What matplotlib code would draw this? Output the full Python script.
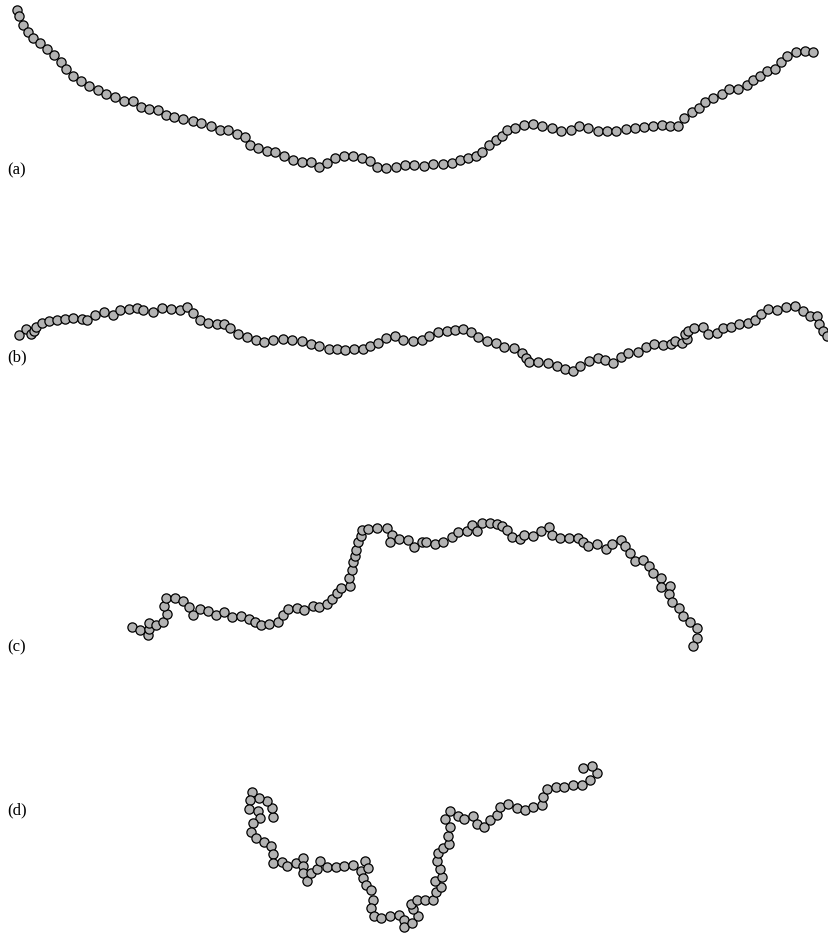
import numpy as np
import matplotlib.pyplot as plt

# bead centres for each chain (x, y)
chain_a = np.array([
    (17, 11), (19, 17), (23, 26), (28, 33), (33, 39), (40, 44), (47, 50), (54, 56), (61, 63), (66, 70),
    (73, 77), (81, 82), (89, 87), (98, 91), (106, 95), (115, 98), (124, 102), (133, 102), (141, 108),
    (149, 110), (158, 111), (166, 116), (174, 118), (183, 120), (193, 122), (201, 124), (211, 127),
    (220, 131), (228, 131), (237, 135), (245, 138), (250, 146), (258, 149), (267, 152), (275, 153),
    (284, 157), (293, 161), (302, 163), (311, 163), (319, 168), (327, 164), (335, 159), (344, 157),
    (353, 157), (362, 159), (370, 162), (377, 168), (386, 169), (396, 168), (405, 166), (414, 166),
    (424, 167), (433, 165), (443, 165), (452, 164), (460, 161), (468, 159), (476, 157), (482, 153),
    (489, 146), (496, 141), (502, 137), (507, 131), (515, 129), (524, 126), (533, 125), (542, 127),
    (552, 129), (561, 132), (571, 131), (579, 127), (588, 129), (598, 132), (607, 132), (616, 132),
    (626, 130), (635, 129), (644, 128), (653, 127), (662, 126), (670, 127), (678, 127), (684, 119),
    (692, 113), (699, 109), (705, 103), (713, 99), (722, 95), (729, 90), (738, 90), (747, 86),
    (753, 81), (760, 77), (767, 72), (775, 70), (781, 63), (787, 57), (796, 53), (805, 52), (813, 53),
])

chain_b = np.array([
    (19, 336), (26, 330), (31, 335), (34, 332), (36, 328), (42, 324), (49, 322), (57, 321), (65, 320),
    (73, 319), (82, 320), (87, 321), (95, 316), (104, 313), (113, 316), (120, 311), (129, 310),
    (137, 309), (143, 311), (153, 313), (162, 309), (171, 310), (180, 311), (187, 308), (193, 314),
    (200, 321), (208, 324), (217, 325), (224, 325), (230, 329), (238, 335), (247, 338), (256, 341),
    (264, 343), (273, 341), (283, 340), (292, 341), (302, 342), (311, 345), (319, 347), (329, 350),
    (337, 350), (345, 351), (354, 350), (363, 350), (370, 347), (378, 344), (386, 339), (395, 337),
    (403, 341), (413, 342), (422, 341), (429, 337), (438, 333), (447, 332), (455, 331), (463, 330),
    (471, 333), (478, 338), (487, 342), (496, 344), (504, 348), (514, 349), (522, 354), (526, 359),
    (529, 363), (538, 363), (548, 364), (557, 367), (565, 370), (573, 372), (580, 367), (589, 362),
    (598, 359), (605, 361), (613, 364), (621, 358), (628, 354), (638, 353), (646, 348), (654, 345),
    (663, 346), (671, 345), (675, 342), (682, 344), (687, 340), (685, 335), (688, 332), (694, 329),
    (703, 328), (708, 335), (717, 334), (723, 329), (731, 328), (739, 325), (748, 324), (755, 321),
    (761, 315), (768, 310), (777, 311), (786, 308), (795, 307), (803, 312), (810, 317), (817, 317),
    (819, 325), (823, 332), (827, 337),
])

chain_c = np.array([
    (132, 628), (140, 631), (148, 636), (149, 630), (149, 624), (156, 626), (163, 623), (167, 615),
    (164, 607), (166, 599), (175, 599), (183, 602), (189, 608), (193, 616), (200, 610), (208, 612),
    (216, 616), (224, 613), (232, 618), (241, 617), (249, 620), (255, 623), (261, 626), (269, 625),
    (278, 623), (283, 616), (288, 610), (297, 609), (304, 611), (313, 607), (319, 608), (327, 605),
    (332, 600), (337, 594), (341, 589), (350, 587), (349, 579), (352, 571), (353, 563), (355, 557),
    (356, 551), (358, 543), (361, 537), (362, 531), (368, 530), (377, 529), (387, 529), (392, 536),
    (390, 543), (399, 540), (408, 541), (414, 548), (422, 543), (426, 543), (435, 545), (443, 543),
    (452, 538), (458, 533), (467, 532), (472, 526), (477, 532), (482, 524), (490, 524), (497, 525),
    (502, 527), (507, 531), (512, 538), (520, 540), (524, 536), (533, 537), (541, 532), (549, 528),
    (552, 536), (560, 539), (569, 539), (578, 539), (583, 543), (588, 547), (597, 545), (606, 550),
    (612, 545), (621, 541), (625, 547), (630, 554), (635, 562), (643, 561), (649, 567), (653, 574),
    (661, 579), (661, 588), (670, 587), (669, 595), (672, 603), (679, 609), (683, 617), (690, 623),
    (697, 629), (697, 639), (693, 647),
])

chain_d = np.array([
    (273, 818), (272, 809), (267, 802), (259, 799), (252, 793), (250, 801), (249, 810), (258, 812),
    (260, 819), (253, 824), (251, 833), (256, 839), (264, 843), (271, 847), (273, 855), (273, 864),
    (282, 863), (287, 867), (296, 864), (303, 859), (303, 867), (303, 874), (307, 882), (311, 874),
    (317, 870), (320, 862), (327, 868), (336, 868), (344, 867), (353, 866), (361, 872), (365, 862),
    (368, 869), (363, 879), (366, 886), (371, 891), (373, 901), (371, 909), (374, 917), (381, 919),
    (390, 917), (399, 916), (404, 921), (404, 928), (412, 924), (418, 917), (413, 910), (411, 905),
    (417, 901), (425, 901), (433, 901), (436, 893), (441, 888), (435, 882), (442, 878), (440, 870),
    (437, 862), (438, 854), (443, 849), (449, 845), (448, 837), (450, 828), (445, 820), (450, 812),
    (458, 817), (464, 820), (473, 817), (477, 825), (484, 828), (490, 821), (497, 816), (500, 808),
    (508, 805), (517, 809), (525, 811), (533, 808), (542, 806), (543, 798), (547, 790), (556, 788),
    (564, 788), (573, 786), (582, 786), (590, 781), (597, 774), (592, 767), (583, 769),
])

labels = ["(a)", "(b)", "(c)", "(d)"]
label_y = [170, 357, 647, 810]

fig = plt.figure(figsize=(8.29, 9.37), dpi=100)
ax = fig.add_axes([0, 0, 1, 1])
ax.set_xlim(0, 829)
ax.set_ylim(937, 0)
ax.axis("off")

for chain in [chain_a, chain_b, chain_c, chain_d]:
    ax.scatter(chain[:, 0], chain[:, 1], s=44, facecolor="#b3b3b3",
               edgecolor="black", linewidth=0.9, zorder=3)

for lab, y in zip(labels, label_y):
    ax.text(7, y, lab, fontsize=12, family=["Liberation Serif", "DejaVu Serif"],
            va="center", ha="left")

fig.savefig("out.png", dpi=100)
